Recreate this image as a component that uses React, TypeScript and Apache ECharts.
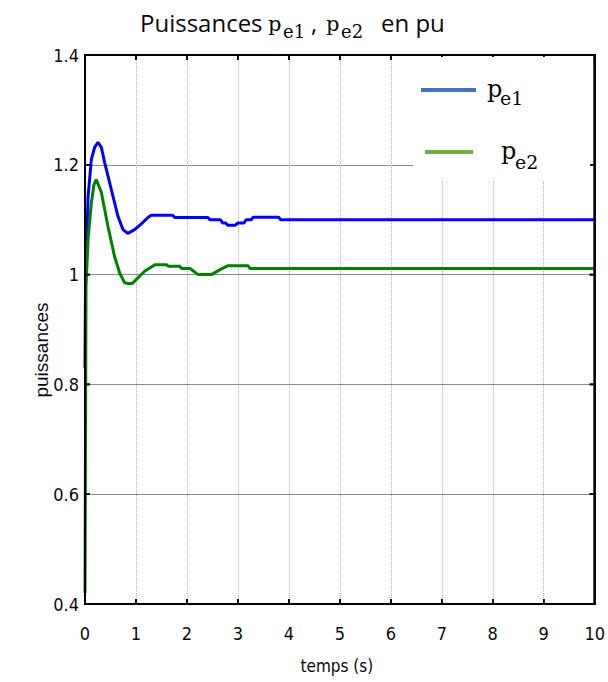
import React, { useEffect, useRef } from 'react';
import * as echarts from 'echarts';

// p_e1 (blue) : time (s) and power (pu)
const tP1 = [0, 0.01, 0.06, 0.125, 0.19, 0.255, 0.32, 0.386, 0.516, 0.647, 0.745, 0.84, 0.974, 1.1, 1.235, 1.3, 1.72, 1.76, 2.41, 2.45, 2.66, 2.7, 2.76, 2.8, 2.95, 3.0, 3.12, 3.16, 3.26, 3.3, 3.8, 3.84, 10];
const vP1 = [0.83, 0.98, 1.142, 1.21, 1.232, 1.241, 1.232, 1.204, 1.155, 1.106, 1.082, 1.075, 1.082, 1.092, 1.104, 1.108, 1.108, 1.104, 1.104, 1.1, 1.1, 1.094, 1.094, 1.09, 1.09, 1.094, 1.094, 1.1, 1.1, 1.1045, 1.1045, 1.1, 1.1];

// p_e2 (green)
const tP2 = [0, 0.02, 0.06, 0.125, 0.176, 0.22, 0.32, 0.45, 0.58, 0.68, 0.78, 0.83, 0.93, 0.974, 1.17, 1.37, 1.6, 1.64, 1.86, 1.9, 2.06, 2.22, 2.48, 2.65, 2.8, 3.2, 3.24, 10];
const vP2 = [0.42, 0.98, 1.064, 1.131, 1.164, 1.173, 1.15, 1.088, 1.033, 1.003, 0.985, 0.984, 0.984, 0.988, 1.006, 1.018, 1.018, 1.015, 1.015, 1.011, 1.011, 1.0, 1.0, 1.009, 1.016, 1.016, 1.011, 1.011];

// axis tick values
const xTicks = [0, 1, 2, 3, 4, 5, 6, 7, 8, 9, 10];
const yTicks = [0.4, 0.6, 0.8, 1.0, 1.2, 1.4];

const X_MIN = 0, X_MAX = 10, X_STEP = 1;
const Y_MIN = 0.4, Y_MAX = 1.4, Y_STEP = 0.2;

const INK = '#0a0a0a';
// layered fallback colours for the frame: darkest that renders stays on top
const FRAME_LAYERS = ['#000000', '#1e1e1e', '#444444', '#666666', '#7a7a7a'];
const NARROW = "'Liberation Sans Narrow', 'DejaVu Sans Condensed', 'Liberation Sans', sans-serif";
const SANS = "'Open Sans', 'Noto Sans', sans-serif";
const MATH = "'DejaVu Serif', 'Liberation Serif', serif";

function txt(text: string, x: number, y: number, size: number, family: string, align = 'left', extra: any = {}) {
  return {
    type: 'text',
    x,
    y,
    z: 40,
    style: { text, fontSize: size, fontFamily: family, fill: INK, align, verticalAlign: 'middle' },
    ...extra,
  };
}

function bars(x: number, y: number, w: number, h: number, zBase: number) {
  return FRAME_LAYERS.map((c, i) => ({
    type: 'rect',
    z: zBase + FRAME_LAYERS.length - i,
    shape: { x, y, width: w, height: h },
    style: { fill: c },
  }));
}

export default function App() {
  const ref = useRef<HTMLDivElement>(null);
  useEffect(() => {
    const chart = echarts.init(ref.current!, null, { renderer: 'svg' });
    chart.setOption({
      animation: false,
      grid: { left: 85, right: 12, top: 55, bottom: 78 },
      xAxis: {
        type: 'value', min: X_MIN, max: X_MAX, interval: X_STEP,
        axisLine: { show: true, lineStyle: { color: '#7a7a7a', width: 2 } },
        axisTick: { show: false },
        axisLabel: { show: true, margin: 20, color: INK, fontFamily: NARROW, fontSize: 18 },
        splitLine: { show: true, lineStyle: { color: '#b4b4b4', type: 'dotted', width: 1 } },
      },
      yAxis: {
        type: 'value', min: Y_MIN, max: Y_MAX, interval: Y_STEP,
        axisLine: { show: true, lineStyle: { color: '#7a7a7a', width: 2 } },
        axisTick: { show: false },
        axisLabel: { show: true, margin: 6, color: INK, fontFamily: NARROW, fontSize: 18 },
        splitLine: { show: true, lineStyle: { color: '#8c8c8c', type: 'solid', width: 1 } },
      },
      series: [
        {
          name: 'pe1', type: 'line', showSymbol: false, z: 3,
          data: tP1.map((t, i) => [t, vP1[i]]),
          lineStyle: { color: '#0000ff', width: 3 }, itemStyle: { color: '#0000ff' },
        },
        {
          name: 'pe2', type: 'line', showSymbol: false, z: 4,
          data: tP2.map((t, i) => [t, vP2[i]]),
          lineStyle: { color: '#008000', width: 3 }, itemStyle: { color: '#008000' },
        },
      ],
    });

    const px = (x: number, y: number) => chart.convertToPixel({ xAxisIndex: 0, yAxisIndex: 0 }, [x, y]) as number[];
    const [x0, y0] = px(X_MIN, Y_MIN);
    const [x1, y1] = px(X_MAX, Y_MAX);
    const T = 5;
    const W = 1.5;
    const ticks: any[] = [];
    xTicks.forEach((v) => {
      const [x] = px(v, Y_MIN);
      ticks.push(...bars(x - W / 2, y0 - T, W, T, 10));
      ticks.push(...bars(x - W / 2, y1, W, T, 10));
    });
    yTicks.forEach((v) => {
      const [, y] = px(X_MIN, v);
      ticks.push(...bars(x0, y - W / 2, T, W, 10));
      ticks.push(...bars(x1 - T, y - W / 2, T, W, 10));
    });

    chart.setOption({
      graphic: [
        ...ticks,
        // legend box
        { type: 'rect', z: 20, shape: { x: 413, y: y1 + 2, width: 177, height: 123 }, style: { fill: '#ffffff' } },
        { type: 'line', z: 40, shape: { x1: 421, y1: 90, x2: 476, y2: 90 }, style: { stroke: '#4472c4', lineWidth: 4 } },
        { type: 'line', z: 40, shape: { x1: 425, y1: 152, x2: 473, y2: 152 }, style: { stroke: '#70ad47', lineWidth: 4 } },
        txt('p', 487, 89, 24, MATH),
        txt('e1', 500, 98, 19, MATH),
        txt('p', 501, 151, 24, MATH),
        txt('e2', 515, 162, 19, MATH),
        // plot frame (filled bars)
        ...bars(x0 - 1, y1 - 1, x1 - x0 + 2, 2, 25),
        ...bars(x0 - 1, y0 - 1, x1 - x0 + 2, 2, 25),
        ...bars(x0 - 1, y1 - 1, 2, y0 - y1 + 2, 25),
        ...bars(x1 - 1, y1 - 1, 2, y0 - y1 + 2, 25),
        // title
        txt('Puissances', 140, 22, 24, SANS),
        txt('p', 268, 24, 21, MATH),
        txt('e1', 283, 31, 18, MATH),
        txt(',', 311, 22, 24, SANS),
        txt('p', 326, 24, 21, MATH),
        txt('e2', 341, 31, 18, MATH),
        txt('en pu', 381, 22, 24, SANS),
        // axis names
        txt('temps (s)', (x0 + x1) / 2 - 3, 666, 17, NARROW, 'center'),
        txt('puissances', 41, 350, 19, "'Liberation Sans', Arial, sans-serif", 'center', { rotation: Math.PI / 2 }),
      ],
    });
    return () => chart.dispose();
  }, []);
  return (
    <div
      ref={ref}
      style={{ position: 'fixed', left: 0, top: 0, width: 608, height: 682, background: '#fff' }}
    />
  );
}
